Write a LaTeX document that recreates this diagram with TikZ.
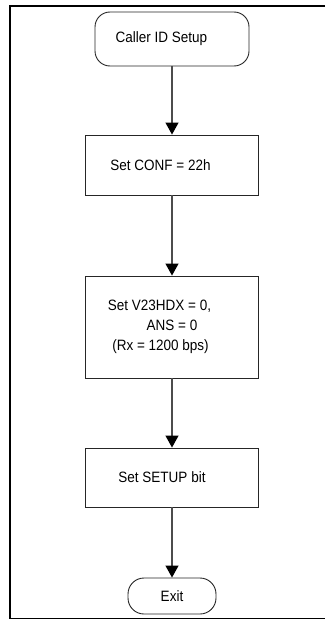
\documentclass[tikz,border=0pt]{standalone}
\usepackage{fontspec}
\setmainfont{Liberation Sans}[FakeStretch=0.9]
\usetikzlibrary{arrows.meta}
\begin{document}
\begin{tikzpicture}[x=1pt,y=-1pt,
  every node/.style={font=\fontsize{15}{20}\selectfont, inner sep=0pt},
  term/.style={draw=black!85, line width=0.9pt, rounded corners=15pt},
  proc/.style={draw=black!85, line width=0.9pt, minimum width=173pt},
  flow/.style={draw=black!70, line width=1.2pt,
    -{Triangle[width=13pt,length=12pt,color=black]}},
  frame/.style={line width=1.8pt, black}
]
\useasboundingbox (0,0) rectangle (325,621);

% page frame
\draw[frame] (325,6) -- (9.8,6) -- (9.8,618.5) -- (325,618.5);

% flowchart steps
\node[term, minimum width=154pt, minimum height=54pt] (start) at (172,39)
  {Caller ID Setup\hspace*{21pt}};
\node[proc, minimum height=60pt] (conf) at (172,165)
  {Set CONF = 22h\hspace*{23pt}};
\node[proc, minimum height=102pt, align=center] (v23) at (172,327)
  {Set V23HDX = 0,\hspace*{25pt}\\ ANS = 0\hspace*{12pt}\\ (Rx = 1200 bps)\hspace*{23pt}};
\node[proc, minimum height=59pt] (setup) at (172,477.5)
  {Set SETUP bit\hspace*{20pt}};
\node[term, rounded corners=16pt, minimum width=88pt, minimum height=36pt] (exit) at (172,596)
  {Exit};

% connectors
\draw[flow] (start) -- (conf);
\draw[flow] (conf) -- (v23);
\draw[flow] (v23) -- (setup);
\draw[flow] (setup) -- (exit);
\end{tikzpicture}
\end{document}
